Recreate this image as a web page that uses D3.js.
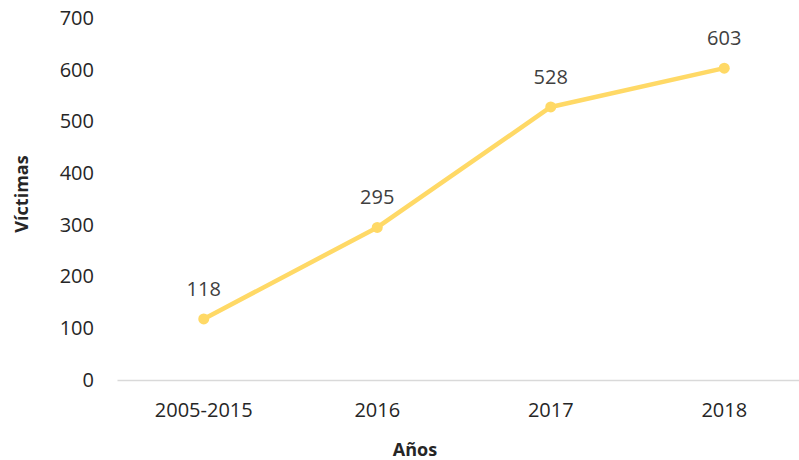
<!DOCTYPE html>
<html>
<head>
<meta charset="utf-8">
<script src="https://cdn.jsdelivr.net/npm/d3@7"></script>
<style>
  body { margin: 0; background: #fff; }
  text { font-family: "Open Sans", "Noto Sans", sans-serif; }
</style>
</head>
<body>
<div id="chart"></div>
<script>
// datos
const anios = ["2005-2015", "2016", "2017", "2018"]
const victimas = [118, 295, 528, 603]
const ticksY = [0, 100, 200, 300, 400, 500, 600, 700]

const ancho = 799
const alto = 460
const margen = { izquierdo: 117, derecho: -12, superior: 18, inferior: 80 }

const svg = d3.select("#chart").append("svg").attr("width", ancho).attr("height", alto)

const x = d3.scaleBand().domain(anios).range([margen.izquierdo, ancho - margen.derecho])
const y = d3.scaleLinear().domain([0, 700]).range([alto - margen.inferior, margen.superior])

// eje Y (solo etiquetas)
const ejeY = svg.append("g").attr("transform", `translate(${margen.izquierdo},0)`)
  .call(d3.axisLeft(y).tickValues(ticksY).tickSize(0).tickPadding(23))
ejeY.select(".domain").remove()
ejeY.selectAll("text").attr("font-size", 20).attr("fill", "#262626")
  .style("font-family", "'Open Sans', sans-serif")

// eje X
const ejeX = svg.append("g").attr("transform", `translate(0,${y(0)})`)
  .call(d3.axisBottom(x).tickSize(0).tickPadding(23))
ejeX.select(".domain").attr("stroke", "#d9d9d9").attr("stroke-width", 1.5)
ejeX.selectAll("text").attr("font-size", 20).attr("fill", "#262626")
  .style("font-family", "'Open Sans', sans-serif")

// títulos
svg.append("text").attr("transform", "translate(28,194) rotate(-90)")
  .attr("text-anchor", "middle").attr("font-size", 18).attr("font-weight", "bold")
  .attr("fill", "#262626").text("Víctimas")
svg.append("text").attr("x", 415).attr("y", 456)
  .attr("text-anchor", "middle").attr("font-size", 18).attr("font-weight", "bold")
  .attr("fill", "#262626").text("Años")

const datos = anios.map((a, i) => ({ anio: a, valor: victimas[i] }))
const cx = d => x(d.anio) + x.bandwidth() / 2

svg.append("path").datum(datos)
  .attr("fill", "none").attr("stroke", "#FFD966").attr("stroke-width", 4.5)
  .attr("stroke-linejoin", "round")
  .attr("d", d3.line().x(cx).y(d => y(d.valor)))

svg.selectAll("circle").data(datos).enter().append("circle")
  .attr("cx", cx).attr("cy", d => y(d.valor)).attr("r", 5.5).attr("fill", "#FFD966")

svg.selectAll(".etiqueta").data(datos).enter().append("text")
  .attr("class", "etiqueta")
  .attr("x", cx).attr("y", d => y(d.valor) - 23)
  .attr("text-anchor", "middle").attr("font-size", 20).attr("fill", "#404040")
  .text(d => d.valor)
</script>
</body>
</html>
